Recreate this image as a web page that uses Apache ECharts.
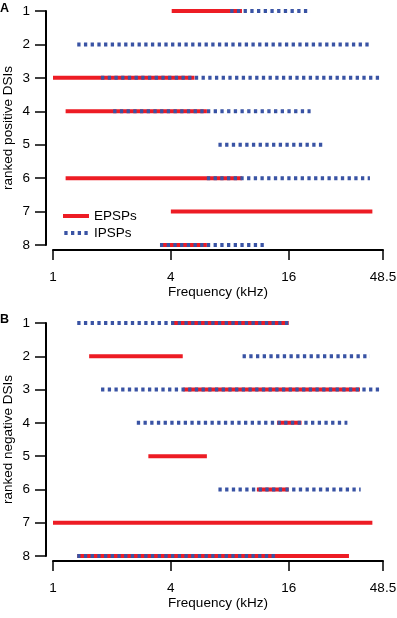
<!DOCTYPE html>
<html>
<head>
<meta charset="utf-8">
<script src="https://cdn.jsdelivr.net/npm/echarts@6/dist/echarts.min.js"></script>
<style>
  html, body { margin: 0; padding: 0; background: #fff; }
  #chart { width: 397px; height: 618px; }
</style>
</head>
<body>
<div id="chart"></div>
<script>
// frequency ranges (kHz) per ranked cell, rows 1..8; null = no response
const rowLabels = [1, 2, 3, 4, 5, 6, 7, 8];
const xTicks = [1, 4, 16, 48.5];

// A: ranked positive DSIs
const posEPSP = [[4.04, 9.23], null, [1.0, 5.28], [1.16, 6.11], null, [1.16, 9.23], [4.0, 42.8], [3.52, 6.11]];
const posIPSP = [[8.04, 20.7], [1.33, 42.5], [1.76, 47.2], [2.03, 20.7], [7.0, 24.5], [6.11, 41.6], null, [3.52, 12.15]];

// B: ranked negative DSIs
const negEPSP = [[4.04, 16.0], [1.53, 4.6], [4.63, 37.0], [13.96, 18.6], [3.07, 6.11], [11.0, 16.0], [1.0, 42.8], [1.33, 32.5]];
const negIPSP = [[1.33, 16.0], [9.3, 41.6], [1.76, 47.2], [2.68, 31.9], null, [7.0, 37.3], null, [1.33, 13.6]];

const RED = '#ed1c24';
const BLUE = '#3953a4';
const FONT = 'Liberation Sans, Arial, sans-serif';

// legend swatches: solid bar and dotted bar
const DOTS_ICON = 'path://M0,0h3.3v4h-3.3zM6.7,0h3.3v4h-3.3zM13.4,0h3.3v4h-3.3zM20.1,0h3.3v4h-3.3z';

// turn ranges into a broken line: start, end, gap
function segments(ranges) {
  const out = [];
  ranges.forEach((r, i) => {
    if (!r) return;
    out.push([r[0], rowLabels[i]], [r[1], rowLabels[i]], ['-', '-']);
  });
  return out;
}

function xAxisFor(idx) {
  return {
    gridIndex: idx,
    type: 'log',
    logBase: 2,
    min: 1,
    max: 48.5,
    offset: 5,
    name: 'Frequency (kHz)',
    nameLocation: 'middle',
    nameGap: 35,
    nameMoveOverlap: false,
    nameTextStyle: { color: '#000', fontSize: 13.5, fontFamily: FONT },
    axisLine: { lineStyle: { color: '#000', width: 2 } },
    axisTick: { length: 10, lineStyle: { color: '#000', width: 1.5 }, customValues: xTicks },
    axisLabel: { color: '#000', fontSize: 13.5, fontFamily: FONT, margin: 20, customValues: xTicks },
    splitLine: { show: false }
  };
}

function yAxisFor(idx, name) {
  return {
    gridIndex: idx,
    type: 'value',
    min: 1,
    max: 8,
    interval: 1,
    inverse: true,
    offset: 7,
    name: name,
    nameLocation: 'middle',
    nameGap: 31,
    nameMoveOverlap: false,
    nameTextStyle: { color: '#000', fontSize: 13.5, fontFamily: FONT },
    axisLine: { show: true, lineStyle: { color: '#000', width: 2 } },
    axisTick: { show: true, length: 11, lineStyle: { color: '#000', width: 1.5 } },
    axisLabel: { color: '#000', fontSize: 13.5, fontFamily: FONT, margin: 16 },
    splitLine: { show: false }
  };
}

function epspSeries(idx, ranges) {
  return {
    name: 'EPSPs',
    type: 'line',
    xAxisIndex: idx,
    yAxisIndex: idx,
    data: segments(ranges),
    symbol: 'none',
    connectNulls: false,
    lineStyle: { color: RED, width: 4, cap: 'butt' },
    itemStyle: { color: RED },
    z: 2
  };
}

function ipspSeries(idx, ranges) {
  return {
    name: 'IPSPs',
    type: 'line',
    xAxisIndex: idx,
    yAxisIndex: idx,
    data: segments(ranges),
    symbol: 'none',
    connectNulls: false,
    lineStyle: { color: BLUE, width: 4, type: [3.3, 3.4], cap: 'butt' },
    itemStyle: { color: BLUE },
    z: 3
  };
}

const chart = echarts.init(document.getElementById('chart'), null, { renderer: 'canvas' });

chart.setOption({
  backgroundColor: '#fff',
  animation: false,
  title: [
    { text: 'A', left: 0, top: 2, padding: 0, textStyle: { fontSize: 12.5, fontWeight: 'bold', color: '#000', fontFamily: FONT } },
    { text: 'B', left: 0, top: 313, padding: 0, textStyle: { fontSize: 12.5, fontWeight: 'bold', color: '#000', fontFamily: FONT } }
  ],
  legend: {
    data: [
      { name: 'EPSPs', icon: 'rect' },
      { name: 'IPSPs', icon: DOTS_ICON }
    ],
    orient: 'vertical',
    left: 63,
    top: 208,
    padding: 0,
    itemWidth: 26,
    itemHeight: 4,
    itemGap: 1,
    selectedMode: false,
    textStyle: { color: '#000', fontSize: 13.5, fontFamily: FONT, lineHeight: 16 }
  },
  grid: [
    { left: 53, right: 14, top: 11, height: 234, outerBoundsMode: 'none', containLabel: false },
    { left: 53, right: 14, top: 323, height: 233, outerBoundsMode: 'none', containLabel: false }
  ],
  xAxis: [xAxisFor(0), xAxisFor(1)],
  yAxis: [yAxisFor(0, 'ranked positive DSIs'), yAxisFor(1, 'ranked negative DSIs')],
  series: [
    epspSeries(0, posEPSP),
    ipspSeries(0, posIPSP),
    epspSeries(1, negEPSP),
    ipspSeries(1, negIPSP)
  ]
});
</script>
</body>
</html>
